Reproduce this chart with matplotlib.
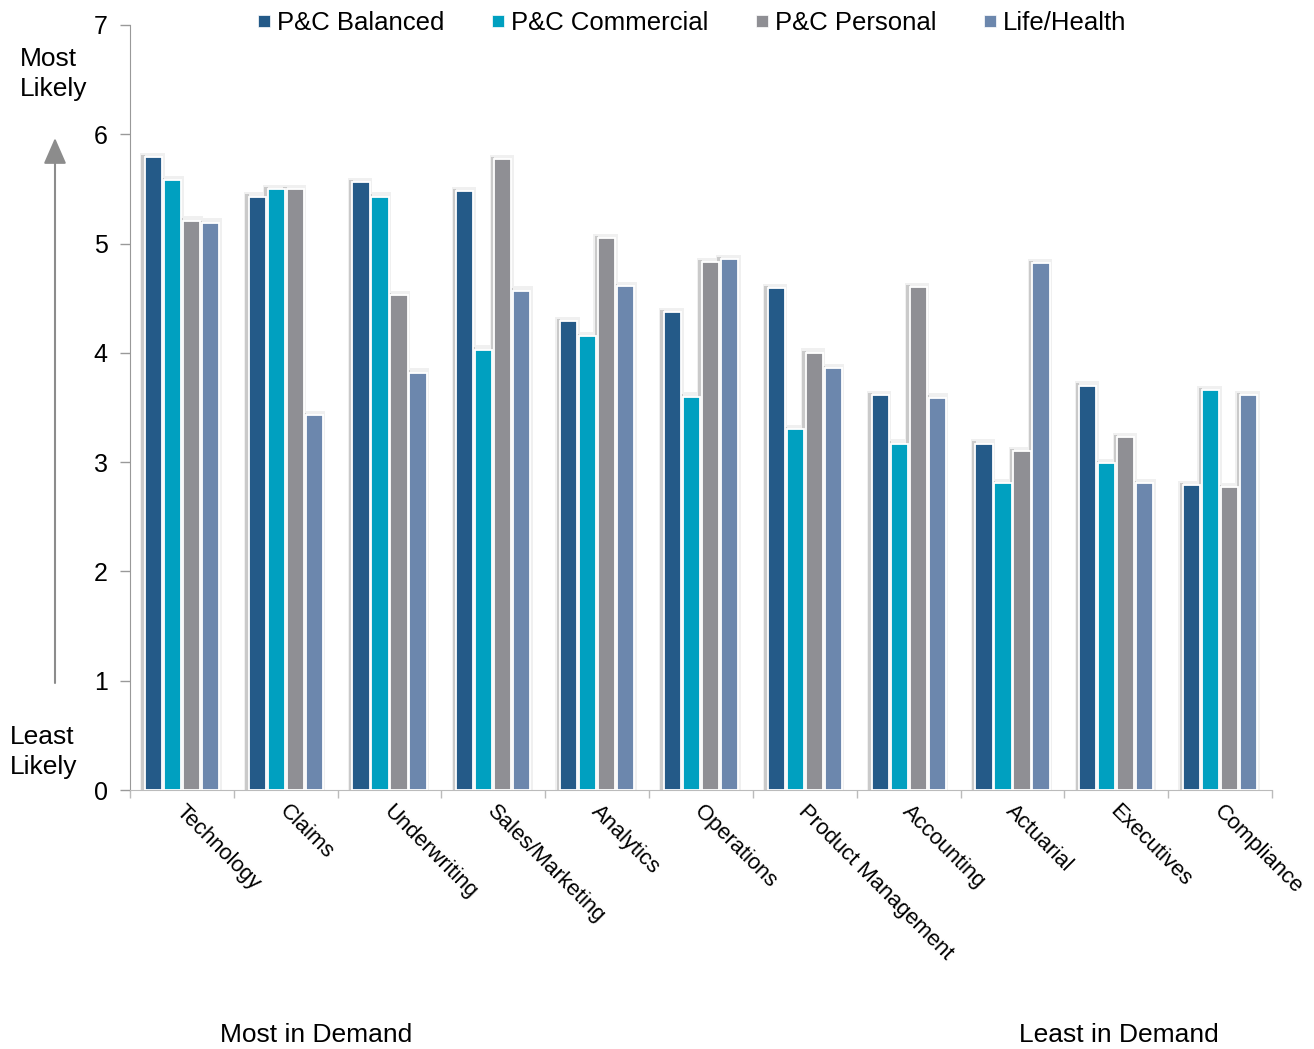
import matplotlib
matplotlib.use("Agg")
import matplotlib.pyplot as plt
import numpy as np
from matplotlib.lines import Line2D
from matplotlib.patches import FancyArrowPatch

plt.rcParams['font.family'] = ['Liberation Sans', 'DejaVu Sans']

categories = ["Technology", "Claims", "Underwriting", "Sales/Marketing", "Analytics",
              "Operations", "Product Management", "Accounting", "Actuarial",
              "Executives", "Compliance"]
series_names = ["P&C Balanced", "P&C Commercial", "P&C Personal", "Life/Health"]
pc_balanced = [5.79, 5.43, 5.56, 5.48, 4.29, 4.37, 4.59, 3.61, 3.17, 3.70, 2.79]
pc_commercial = [5.58, 5.50, 5.43, 4.03, 4.15, 3.60, 3.30, 3.17, 2.81, 2.99, 3.66]
pc_personal = [5.21, 5.50, 4.53, 5.77, 5.05, 4.83, 4.00, 4.60, 3.10, 3.23, 2.77]
life_health = [5.19, 3.43, 3.82, 4.57, 4.61, 4.86, 3.86, 3.59, 4.82, 2.81, 3.61]
colors = ["#245a88", "#00a0c0", "#8f8f94", "#6c87ad"]

series = [pc_balanced, pc_commercial, pc_personal, life_health]

fig = plt.figure(figsize=(13.14, 10.49), dpi=100)
ax = fig.add_axes([130 / 1314, 1 - 790 / 1049, (1272 - 130) / 1314, (790 - 25) / 1049])

n = len(categories)
x = np.arange(n)
slot = 0.183
w = 0.165
for i, (vals, col) in enumerate(zip(series, colors)):
    xs = x + (i - 1.5) * slot
    vals = np.array(vals)
    # soft glow around each bar
    ax.bar(xs - 0.01, vals + 0.04, width=w + 0.07, color="#f0f0f0", zorder=1, linewidth=0)
    # darker shadow strip on the left side
    ax.bar(xs - w / 2 - 0.016, vals + 0.02, width=0.035, color="#cacaca", zorder=2, linewidth=0)
    ax.bar(xs, vals, width=w, color=col, edgecolor="white", linewidth=1.3, zorder=3)

ax.set_xlim(-0.5, n - 0.5)
ax.set_ylim(0, 7)
ax.set_yticks(range(0, 8))
ax.tick_params(axis='y', direction='out', length=7, width=1, color="#999999",
               labelsize=18, pad=9)
ax.set_xticks(np.arange(n + 1) - 0.5)
ax.set_xticklabels([])
ax.tick_params(axis='x', direction='out', length=6, width=1, color="#bbbbbb")
for xi, lab in zip(x, categories):
    ax.text(xi - 0.03, -0.17, lab, rotation=-45, rotation_mode='anchor',
            ha='left', va='center', fontsize=15.8, color="black")

for s in ["top", "right"]:
    ax.spines[s].set_visible(False)
ax.spines["left"].set_color("#999999")
ax.spines["bottom"].set_color("#bbbbbb")

handles = [Line2D([0], [0], marker='s', linestyle='none', markersize=9,
                  markerfacecolor=c, markeredgecolor='white', markeredgewidth=0.5)
           for c in colors]
fig.legend(handles, series_names, loc='center', bbox_to_anchor=(690 / 1314, 1 - 23 / 1049),
           ncol=4, frameon=False, fontsize=18.5, handletextpad=0.1,
           columnspacing=1.7, handlelength=0.8, borderpad=0)

fig.text(20 / 1314, 1 - 74 / 1049, "Most\nLikely", fontsize=19, ha='left', va='center',
         linespacing=1.3)
fig.text(10 / 1314, 1 - 752 / 1049, "Least\nLikely", fontsize=19, ha='left', va='center',
         linespacing=1.3)
fig.add_artist(FancyArrowPatch(
    (55 / 1314, 1 - 683 / 1049), (55 / 1314, 1 - 138 / 1049), transform=fig.transFigure,
    arrowstyle='-|>,head_length=16,head_width=7', color="#8c8c8c", lw=1.5,
    mutation_scale=1, shrinkA=0, shrinkB=0))
fig.text(316 / 1314, 1 - 1035 / 1049, "Most in Demand", fontsize=19, ha='center', va='center')
fig.text(1119 / 1314, 1 - 1035 / 1049, "Least in Demand", fontsize=19, ha='center', va='center')

fig.savefig("out.png", dpi=100, facecolor="white")
